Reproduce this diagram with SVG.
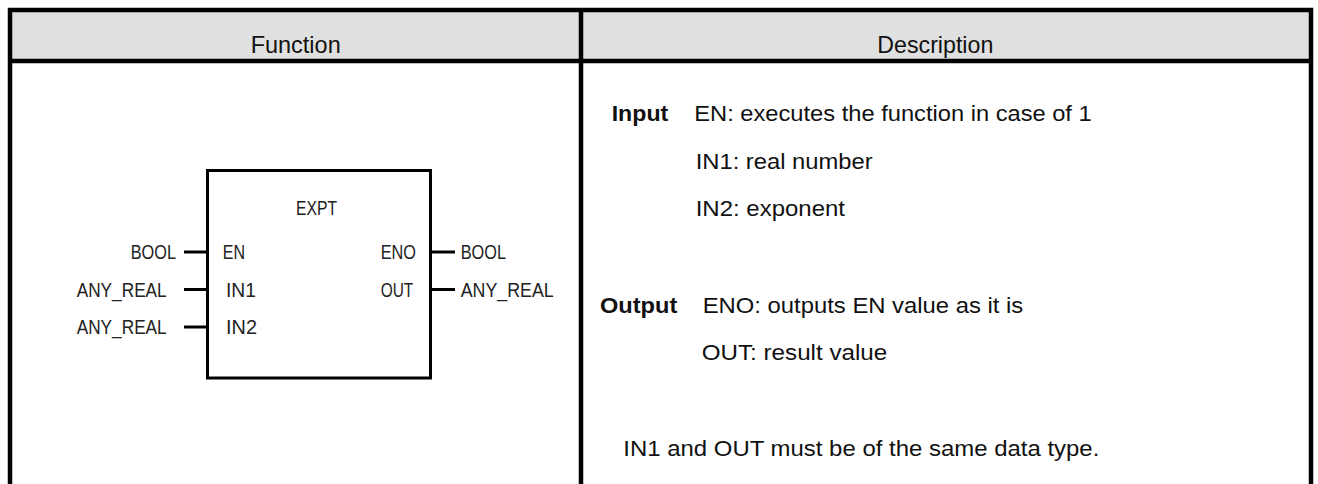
<svg xmlns="http://www.w3.org/2000/svg" width="1318" height="484" viewBox="0 0 1318 484">
<style>
.frame{fill:none;stroke:#000;stroke-width:4.5}
.hdr{font-family:"Liberation Sans",Arial,sans-serif;font-size:24.5px;fill:#111}
.blk{font-family:"Liberation Sans",Arial,sans-serif;font-size:21px;fill:#222}
.desc{font-family:"Liberation Sans",Arial,sans-serif;font-size:21.5px;fill:#111}
.bold{font-weight:bold}
.pin{stroke:#000;stroke-width:3;fill:none}
</style>
<rect x="0" y="0" width="1318" height="484" fill="#fff"/>
<g id="table">
<rect x="10" y="10" width="1301" height="51" fill="#e0e0e0"/>
<path class="frame" d="M10 490 V10 H1311 V490"/>
<path class="frame" d="M10 61 H1311"/>
<path class="frame" d="M581 10 V490"/>
<text class="hdr" x="250.7" y="53.3" textLength="90" lengthAdjust="spacingAndGlyphs">Function</text>
<text class="hdr" x="877.3" y="53.3" textLength="116" lengthAdjust="spacingAndGlyphs">Description</text>
</g>
<g id="expt-block">
<rect x="207.5" y="170.5" width="223" height="207.5" fill="#fff" stroke="#000" stroke-width="3"/>
<text class="blk" x="296" y="215" textLength="41" lengthAdjust="spacingAndGlyphs">EXPT</text>
<text class="blk" x="222.7" y="259.3" textLength="22.3" lengthAdjust="spacingAndGlyphs">EN</text>
<text class="blk" x="226" y="297" textLength="30" lengthAdjust="spacingAndGlyphs">IN1</text>
<text class="blk" x="226" y="334" textLength="31" lengthAdjust="spacingAndGlyphs">IN2</text>
<text class="blk" x="380.7" y="259.3" textLength="35.3" lengthAdjust="spacingAndGlyphs">ENO</text>
<text class="blk" x="380.7" y="297" textLength="32.6" lengthAdjust="spacingAndGlyphs">OUT</text>
</g>
<g id="connectors">
<path class="pin" d="M184 252 H207.5"/>
<path class="pin" d="M184 289.5 H207.5"/>
<path class="pin" d="M184 327 H207.5"/>
<path class="pin" d="M430.5 252 H455"/>
<path class="pin" d="M430.5 289.5 H455"/>
</g>
<g id="pin-types">
<text class="blk" x="130.7" y="259.3" textLength="45.3" lengthAdjust="spacingAndGlyphs">BOOL</text>
<text class="blk" x="76.7" y="297" textLength="90" lengthAdjust="spacingAndGlyphs">ANY_REAL</text>
<text class="blk" x="76.7" y="334.3" textLength="90" lengthAdjust="spacingAndGlyphs">ANY_REAL</text>
<text class="blk" x="460.7" y="259.3" textLength="45.3" lengthAdjust="spacingAndGlyphs">BOOL</text>
<text class="blk" x="460.7" y="297" textLength="93" lengthAdjust="spacingAndGlyphs">ANY_REAL</text>
</g>
<g id="description">
<text class="desc bold" x="611.7" y="121" textLength="56.6" lengthAdjust="spacingAndGlyphs">Input</text>
<text class="desc" x="694.3" y="121" textLength="397.4" lengthAdjust="spacingAndGlyphs">EN: executes the function in case of 1</text>
<text class="desc" x="695.7" y="169" textLength="177" lengthAdjust="spacingAndGlyphs">IN1: real number</text>
<text class="desc" x="695.7" y="215.5" textLength="149.3" lengthAdjust="spacingAndGlyphs">IN2: exponent</text>
<text class="desc bold" x="600" y="312.7" textLength="77.3" lengthAdjust="spacingAndGlyphs">Output</text>
<text class="desc" x="702.7" y="312.7" textLength="320.6" lengthAdjust="spacingAndGlyphs">ENO: outputs EN value as it is</text>
<text class="desc" x="701.7" y="360" textLength="185.6" lengthAdjust="spacingAndGlyphs">OUT: result value</text>
<text class="desc" x="623.3" y="456" textLength="476" lengthAdjust="spacingAndGlyphs">IN1 and OUT must be of the same data type.</text>
</g>
</svg>
